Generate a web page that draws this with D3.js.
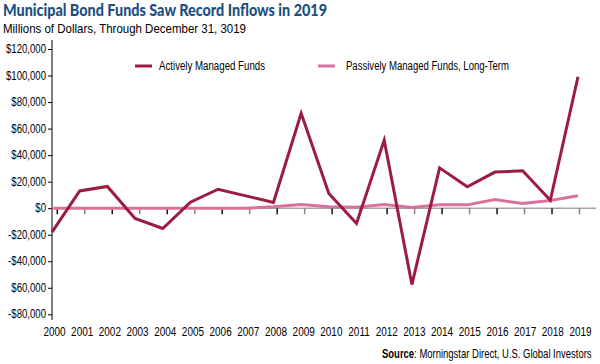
<!DOCTYPE html>
<html><head><meta charset="utf-8">
<script src="https://cdn.jsdelivr.net/npm/d3@7"></script>
<style>
body{margin:0;background:#fff;}
svg{display:block;}
text{font-family:"Liberation Sans",Arial,sans-serif;}
</style></head>
<body><svg id="c" width="600" height="364"></svg>
<script>
const years = ["2000","2001","2002","2003","2004","2005","2006","2007","2008","2009","2010","2011","2012","2013","2014","2015","2016","2017","2018","2019"];
const activeFunds = [-18000,13000,16400,-7800,-15300,4500,14300,9300,4300,71500,11100,-11500,51300,-57600,30400,16100,27200,28200,6000,99100];
const passiveFunds = [0,0,0,0,0,0,0,0,1000,2800,1000,700,2800,500,2500,2500,6500,3500,5800,9300];
const yTicks = [120000,100000,80000,60000,40000,20000,0,-20000,-40000,-60000,-80000];
const yTickLabels = ["$120,000","$100,000","$80,000","$60,000","$40,000","$20,000","$0","-$20,000","-$40,000","$60,000","-$80,000"];
const seriesNames = ["Actively Managed Funds","Passively Managed Funds, Long-Term"];
const colors = ["#9b1c40","#d9719c"];

const svg = d3.select("#c");
const x = d3.scalePoint().domain(years).range([52,578]);
const xTick = d3.scalePoint().domain(years).range([57.3,579.5]);
const y = d3.scaleLinear().domain([-80000,120000]).range([314.3,49]);

function fitText(txt, x0, y0, len, opts){
  const t = svg.append("text").attr("x",x0).attr("y",y0)
    .attr("textLength",len).attr("lengthAdjust","spacingAndGlyphs")
    .style("font-size",opts.size).attr("fill",opts.fill||"#000")
    .style("font-weight",opts.weight||"normal").text(txt);
  if(opts.family) t.style("font-family",opts.family);
  return t;
}

// title & subtitle
fitText("Municipal Bond Funds Saw Record Inflows in 2019",3,16,324,{size:"17px",weight:"900",fill:"#1d4f7f",family:"Lato,'Open Sans',sans-serif"});
fitText("Millions of Dollars, Through December 31, 3019",3,33,243,{size:"13.5px"});

// y axis
const yAxis = d3.axisLeft(y).tickValues(yTicks).tickSize(4).tickPadding(0).tickFormat(()=>"");
const gy = svg.append("g").attr("transform","translate(52,0)").call(yAxis);
gy.select(".domain").attr("d","M0,40V320").attr("stroke","#000");
gy.selectAll(".tick line").attr("stroke","#000");
svg.append("g").selectAll("text").data(yTicks).join("text")
  .attr("transform",d=>`translate(46,${y(d)+4}) scale(0.8,1)`)
  .attr("text-anchor","end").style("font-size","12px").attr("fill","#000")
  .text((d,i)=>yTickLabels[i]);

// zero line
svg.append("line").attr("x1",52).attr("x2",596).attr("y1",y(0)).attr("y2",y(0)).attr("stroke","#777").attr("stroke-width",1);

// x ticks
svg.append("g").selectAll("line").data(years).join("line")
  .attr("x1",d=>xTick(d)).attr("x2",d=>xTick(d)).attr("y1",y(0)).attr("y2",y(0)+6)
  .attr("stroke",(d,i)=>i%2===0?"#111":"#888").attr("stroke-width",1.5);
svg.append("g").selectAll("text").data(years).join("text")
  .attr("transform",d=>`translate(${x(d)+2.5},336) scale(0.83,1)`)
  .attr("text-anchor","middle").style("font-size","12px").attr("fill","#000").text(d=>d);

// lines
const line = d3.line().x((d,i)=>x(years[i])).y(d=>y(d));
svg.append("path").datum(passiveFunds).attr("d",line).attr("fill","none")
  .attr("stroke",colors[1]).attr("stroke-width",3);
svg.append("path").datum(activeFunds).attr("d",line).attr("fill","none")
  .attr("stroke",colors[0]).attr("stroke-width",3).attr("stroke-linejoin","miter");

// legend
const leg = [{x:135,tx:159,len:106},{x:318,tx:346,len:163}];
seriesNames.forEach((n,i)=>{
  svg.append("line").attr("x1",leg[i].x).attr("x2",leg[i].x+17).attr("y1",66).attr("y2",66)
    .attr("stroke",colors[i]).attr("stroke-width",3);
  fitText(n,leg[i].tx,70,leg[i].len,{size:"12px"});
});

// source (single text, scaled to fit the reference width)
const src = svg.append("text").attr("x",0).attr("y",0).style("font-size","12px").attr("fill","#000");
src.append("tspan").style("font-weight","bold").text("Source");
src.append("tspan").text(": Morningstar Direct, U.S. Global Investors");
const w = src.node().getComputedTextLength();
const sx = 210 / w;
src.attr("transform",`translate(${592 - w*sx},358) scale(${sx},1)`);
</script></body></html>
